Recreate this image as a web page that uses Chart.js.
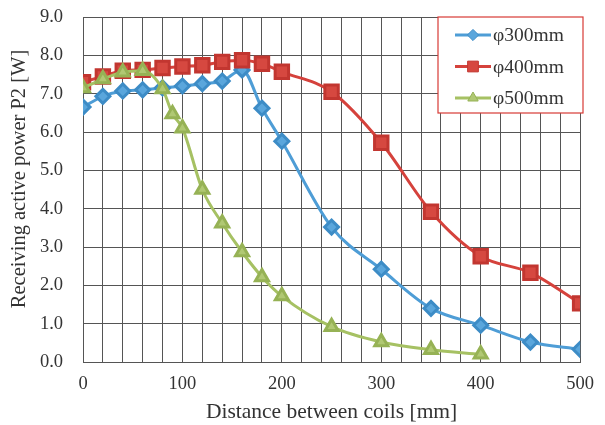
<!DOCTYPE html>
<html>
<head>
<meta charset="utf-8">
<script src="https://cdn.jsdelivr.net/npm/chart.js@4.4.1/dist/chart.umd.min.js"></script>
<style>
  html, body { margin: 0; padding: 0; background: #fff; }
  #wrap { width: 605px; height: 425px; }
</style>
</head>
<body>
<div id="wrap"><canvas id="lineChart" width="605" height="425"></canvas></div>
<script>
// distances [mm]
const xShort = [0, 20, 40, 60, 80, 100, 120, 140, 160, 180, 200, 250, 300, 350, 400, 450, 500];
const xGreen = [0, 20, 40, 60, 80, 90, 100, 120, 140, 160, 180, 200, 250, 300, 350, 400];

// receiving power P2 [W]
const p300 = [6.65, 6.93, 7.07, 7.1, 7.15, 7.2, 7.26, 7.33, 7.62, 6.62, 5.76, 3.52, 2.42, 1.4, 0.96, 0.52, 0.33];
const p400 = [7.3, 7.45, 7.6, 7.62, 7.67, 7.71, 7.74, 7.83, 7.87, 7.78, 7.57, 7.05, 5.72, 3.92, 2.76, 2.33, 1.53];
const p500 = [7.15, 7.38, 7.56, 7.6, 7.12, 6.47, 6.1, 4.5, 3.62, 2.87, 2.22, 1.72, 0.92, 0.52, 0.32, 0.2];

const seriesNames = ["φ300mm", "φ400mm", "φ500mm"];
const yTicks = [0, 1, 2, 3, 4, 5, 6, 7, 8, 9];
const yTitle = "Receiving active power P2 [W]";

const toPts = (xs, ys) => xs.map((x, i) => ({ x: x, y: ys[i] }));

const serif = "'Liberation Serif', 'DejaVu Serif', serif";

// legend box inside the plot area (top right) + rotated y title
const boxLegend = {
  id: "boxLegend",
  afterDraw(chart) {
    const ctx = chart.ctx;
    const x0 = 438, y0 = 17, w = 145, h = 96;
    ctx.save();
    ctx.fillStyle = "#fff";
    ctx.fillRect(x0, y0, w, h);
    ctx.strokeStyle = "#d83a35";
    ctx.lineWidth = 1.2;
    ctx.strokeRect(x0, y0, w, h);
    chart.data.datasets.forEach((ds, i) => {
      const cy = y0 + 18 + i * 31.5;
      ctx.strokeStyle = ds.borderColor;
      ctx.lineWidth = 3;
      ctx.beginPath();
      ctx.moveTo(x0 + 17, cy);
      ctx.lineTo(x0 + 53, cy);
      ctx.stroke();
      ctx.fillStyle = ds.pointBackgroundColor;
      ctx.strokeStyle = ds.pointBorderColor;
      ctx.lineWidth = 1;
      Chart.helpers.drawPoint(ctx, {
        pointStyle: ds.pointStyle,
        radius: ds.pointRadius * 0.8,
        borderWidth: 1,
        rotation: 0,
      }, x0 + 35, cy);
      ctx.fillStyle = "#333";
      ctx.font = "19.5px " + serif;
      ctx.textBaseline = "middle";
      ctx.textAlign = "left";
      ctx.fillText(seriesNames[i], x0 + 55, cy + 1);
    });

    ctx.translate(20, 179);
    ctx.rotate(-Math.PI / 2);
    ctx.fillStyle = "#333";
    ctx.font = "20.5px " + serif;
    ctx.textAlign = "center";
    ctx.textBaseline = "middle";
    ctx.fillText(yTitle, 0, 0);
    ctx.restore();
  },
};

const ctx = document.getElementById("lineChart");
new Chart(ctx, {
  type: "line",
  data: {
    datasets: [
      {
        label: seriesNames[0],
        data: toPts(xShort, p300),
        order: 2,
        borderColor: "#4e9dd6",
        backgroundColor: "#4e9dd6",
        pointBackgroundColor: "#5aa6dc",
        pointBorderColor: "#3d8cc6",
        pointStyle: "rectRot",
        pointRadius: 7,
        borderWidth: 3,
        cubicInterpolationMode: "monotone",
      },
      {
        label: seriesNames[1],
        data: toPts(xShort, p400),
        order: 1,
        borderColor: "#d5423c",
        backgroundColor: "#d5423c",
        pointBackgroundColor: "#d64840",
        pointBorderColor: "#c23630",
        pointStyle: "rect",
        pointRadius: 9.5,
        borderWidth: 3,
        cubicInterpolationMode: "monotone",
      },
      {
        label: seriesNames[2],
        data: toPts(xGreen, p500),
        order: 0,
        borderColor: "#a6c163",
        backgroundColor: "#a6c163",
        pointBackgroundColor: "#b0c873",
        pointBorderColor: "#96b255",
        pointStyle: "triangle",
        pointRadius: 7.5,
        borderWidth: 3,
        cubicInterpolationMode: "monotone",
      },
    ],
  },
  options: {
    responsive: false,
    animation: false,
    layout: { padding: { top: 17, right: 23, left: 0, bottom: 0 } },
    plugins: {
      legend: { display: false },
      tooltip: { enabled: false },
    },
    scales: {
      x: {
        type: "linear",
        min: 0,
        max: 500,
        ticks: {
          stepSize: 20,
          autoSkip: false,
          maxRotation: 0,
          padding: 11,
          color: "#333",
          font: { family: serif, size: 18.5 },
          callback: (v) => (v % 100 === 0 ? String(v) : ""),
        },
        grid: { color: "#555", lineWidth: 1, drawTicks: false },
        border: { color: "#555" },
        title: {
          display: true,
          text: "Distance between coils [mm]",
          color: "#333",
          font: { family: serif, size: 21.5 },
          padding: { top: 2, bottom: 0 },
        },
        afterFit: (scale) => { scale.height = 63; },
      },
      y: {
        min: 0,
        max: 9,
        afterBuildTicks: (scale) => { scale.ticks = yTicks.map((v) => ({ value: v })); },
        ticks: {
          padding: 20,
          color: "#333",
          font: { family: serif, size: 18.5 },
          callback: (v) => v.toFixed(1),
        },
        grid: { color: "#555", lineWidth: 1, drawTicks: false },
        border: { color: "#555" },
        afterFit: (scale) => {
          scale.width = 83;
          scale.paddingTop = 0;
          scale.paddingBottom = 0;
        },
      },
    },
  },
  plugins: [boxLegend],
});
</script>
</body>
</html>
